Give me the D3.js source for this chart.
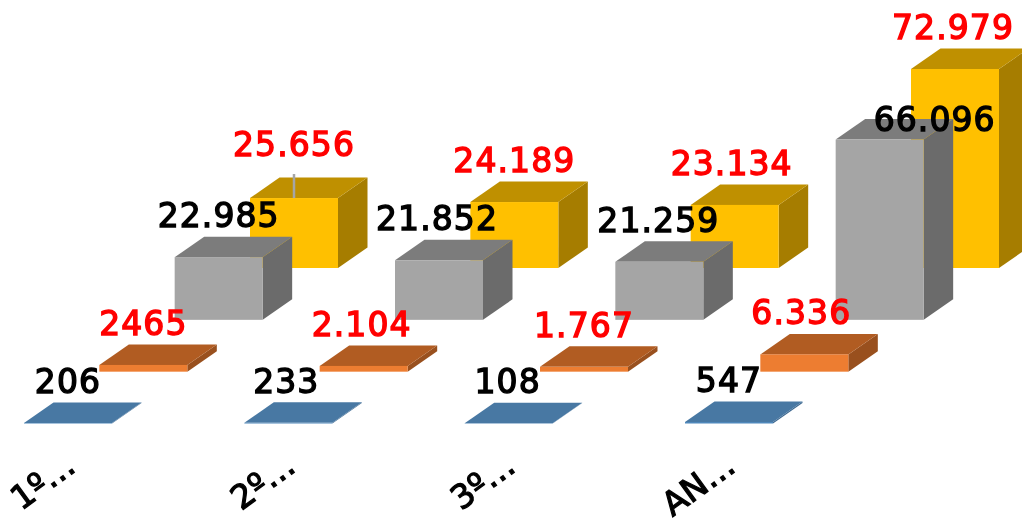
<!DOCTYPE html>
<html>
<head>
<meta charset="utf-8">
<script src="https://cdn.jsdelivr.net/npm/d3@7"></script>
<style>
  html, body { margin: 0; background: #fff; overflow: hidden; }
  svg { display: block; filter: blur(0.55px); }
  text { font-family: "DejaVu Sans", sans-serif; }
</style>
</head>
<body>
<svg width="1022" height="521"></svg>
<script>
const categories = ["1º…", "2º…", "3º…", "AN…"];
const seriesNames = ["blue", "orange", "gray", "yellow"];

const blueValues = [206, 233, 108, 547];
const orangeValues = [2465, 2104, 1767, 6336];
const grayValues = [22985, 21852, 21259, 66096];
const yellowValues = [25656, 24189, 23134, 72979];

const blueLabels = ["206", "233", "108", "547"];
const orangeLabels = ["2465", "2.104", "1.767", "6.336"];
const grayLabels = ["22.985", "21.852", "21.259", "66.096"];
const yellowLabels = ["25.656", "24.189", "23.134", "72.979"];

const colors = {
  blue: { front: "#4f88bb", top: "#4878a3", side: "#3f6a91", text: "#000" },
  orange: { front: "#ed7d31", top: "#b15c22", side: "#99501e", text: "#f00" },
  gray: { front: "#a5a5a5", top: "#7c7c7c", side: "#6b6b6b", text: "#000" },
  yellow: { front: "#ffc000", top: "#bf9000", side: "#a67d00", text: "#f00" }
};

const series = [
  { name: "blue", values: blueValues, labels: blueLabels },
  { name: "orange", values: orangeValues, labels: orangeLabels },
  { name: "gray", values: grayValues, labels: grayLabels },
  { name: "yellow", values: yellowValues, labels: yellowLabels }
];

const barW = 88, depthX = 29.5, depthY = 20.5;

const xCat = d3.scalePoint().domain(categories).range([24, 685]);
const xDepth = d3.scalePoint().domain(seriesNames).range([0, 226]);
const yBase = d3.scalePoint().domain(seriesNames).range([423.5, 268]);
const h = d3.scaleLinear().domain([0, 72979]).range([0, 199]);

const svg = d3.select("svg");
const line = d3.line();

// back row first so the nearer bars cover it
const bars = [];
series.slice().reverse().forEach(s => {
  categories.forEach((c, i) => {
    const x0 = xCat(c) + xDepth(s.name);
    const y0 = yBase(s.name);
    bars.push({ s, i, x0, y0, top: y0 - h(s.values[i]) });
  });
});

const barG = svg.selectAll("g.bar")
  .data(bars)
  .enter()
  .append("g")
  .attr("class", "bar");

barG.append("path")
  .attr("fill", d => colors[d.s.name].side)
  .attr("d", d => line([
    [d.x0 + barW, d.y0], [d.x0 + barW, d.top],
    [d.x0 + barW + depthX, d.top - depthY], [d.x0 + barW + depthX, d.y0 - depthY]
  ]) + "Z");

barG.append("path")
  .attr("fill", d => colors[d.s.name].top)
  .attr("d", d => line([
    [d.x0, d.top], [d.x0 + barW, d.top],
    [d.x0 + barW + depthX, d.top - depthY], [d.x0 + depthX, d.top - depthY]
  ]) + "Z");

barG.append("rect")
  .attr("x", d => d.x0)
  .attr("y", d => d.top)
  .attr("width", barW)
  .attr("height", d => d.y0 - d.top)
  .attr("fill", d => colors[d.s.name].front);

// moved labels in the original, by series and category
const labelNudge = {
  "yellow-0": [0, -12], "gray-3": [55, 21], "gray-1": [-2, 0], "gray-2": [-1, 0],
  "yellow-3": [-2, 0], "yellow-2": [-3, 0], "orange-1": [-2, 0], "orange-3": [-3, 0],
  "blue-1": [-2, 0], "blue-2": [-1, 0]
};

// leader line of the first yellow label
const first = bars.find(d => d.s.name === "yellow" && d.i === 0);
svg.append("line")
  .attr("x1", first.x0 + barW / 2)
  .attr("x2", first.x0 + barW / 2)
  .attr("y1", first.top - 24)
  .attr("y2", first.top)
  .attr("stroke", "#a5a5a5")
  .attr("stroke-width", 2.5);

svg.selectAll("text.value")
  .data(bars)
  .enter()
  .append("text")
  .attr("class", "value")
  .attr("text-anchor", "middle")
  .attr("x", d => d.x0 + barW / 2 + (labelNudge[d.s.name + "-" + d.i] || [0, 0])[0])
  .attr("y", d => d.top - 30 + (labelNudge[d.s.name + "-" + d.i] || [0, 0])[1])
  .attr("font-size", 33)
  .attr("letter-spacing", 1.1)
  .attr("fill", d => colors[d.s.name].text)
  .attr("stroke", d => colors[d.s.name].text)
  .attr("stroke-width", 1.4)
  .text(d => d.s.labels[d.i]);

const axis = d3.axisBottom(d3.scalePoint().domain(categories).range([77, 737]))
  .tickSize(0);

const axisG = svg.append("g")
  .attr("transform", "translate(0,470)")
  .call(axis);

axisG.select(".domain").remove();
axisG.selectAll("text")
  .attr("font-family", null)
  .attr("font-size", 33)
  .attr("fill", "#000")
  .attr("stroke", "#000")
  .attr("stroke-width", 1.2)
  .attr("text-anchor", "end")
  .attr("dy", 0)
  .attr("y", 0)
  .attr("transform", "rotate(-36)");
</script>
</body>
</html>
